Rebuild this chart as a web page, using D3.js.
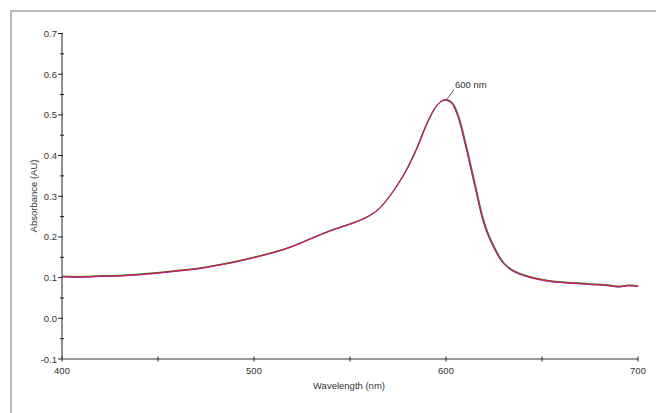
<!DOCTYPE html>
<html>
<head>
<meta charset="utf-8">
<script src="https://cdn.jsdelivr.net/npm/d3@7"></script>
<style>
  body { margin: 0; background: #fff; }
  svg { display: block; font-family: "Liberation Sans", Arial, sans-serif; }
</style>
</head>
<body>
<svg id="chart" width="656" height="413"></svg>
<script>
// absorbance spectrum, values
var wavelengths = [400, 410, 420, 430, 440, 450, 460, 470, 480, 490, 500, 510, 520, 530, 540,
  550, 555, 560, 565, 570, 575, 580, 585, 590, 595, 598, 600, 603, 606, 610, 615, 620, 625,
  630, 635, 640, 645, 650, 655, 660, 665, 670, 675, 680, 685, 690, 695, 700];
var absorbance = [0.103, 0.102, 0.104, 0.105, 0.108, 0.112, 0.117, 0.122, 0.130, 0.139, 0.150,
  0.162, 0.177, 0.197, 0.216, 0.232, 0.241, 0.252, 0.269, 0.296, 0.330, 0.370, 0.420, 0.478,
  0.522, 0.535, 0.537, 0.530, 0.502, 0.432, 0.330, 0.232, 0.175, 0.136, 0.117, 0.107, 0.100,
  0.095, 0.091, 0.089, 0.087, 0.086, 0.084, 0.083, 0.081, 0.078, 0.081, 0.079];
var xTicks = [400, 500, 600, 700];
var xMinor = [450, 550, 650];
var yTicks = [-0.1, 0.0, 0.1, 0.2, 0.3, 0.4, 0.5, 0.6, 0.7];
var yMinor = [-0.05, 0.05, 0.15, 0.25, 0.35, 0.45, 0.55, 0.65];
var peakLabel = "600 nm", peakX = 600;

var svg = d3.select("#chart");

var data = wavelengths.map(function(w, i) { return {w: w, a: absorbance[i]}; });

var x = d3.scaleLinear().domain([400, 700]).range([62, 638]);
var y = d3.scaleLinear().domain([-0.1, 0.7]).range([359, 33.5]);

// outer frame (top and left only)
svg.append("path")
  .attr("d", "M11,413 V11 H656")
  .attr("fill", "none")
  .attr("stroke", "#a6a6a6")
  .attr("stroke-width", 1.5);

// y axis
var ya = svg.append("g").attr("transform", "translate(62,0)");
ya.append("line").attr("y1", y(0.7)).attr("y2", y(-0.1)).attr("stroke", "#222");
ya.selectAll(".maj").data(yTicks).enter().append("line")
  .attr("x1", -4).attr("x2", 1)
  .attr("y1", d => y(d)).attr("y2", d => y(d))
  .attr("stroke", "#222");
ya.selectAll(".min").data(yMinor).enter().append("line")
  .attr("x1", -2).attr("x2", 2)
  .attr("y1", d => y(d)).attr("y2", d => y(d))
  .attr("stroke", "#222");
ya.selectAll("text").data(yTicks).enter().append("text")
  .attr("x", -5).attr("y", d => y(d) + 3.5)
  .attr("text-anchor", "end")
  .attr("font-size", 9.5).attr("fill", "#333")
  .text(d => d3.format(".1f")(d).replace("\u2212", "-"));

// x axis
var xa = svg.append("g").attr("transform", "translate(0,359)");
xa.append("line").attr("x1", x(400)).attr("x2", x(700))
  .attr("stroke", "#999").attr("stroke-width", 1.8);
xa.selectAll(".tk").data(xTicks.concat(xMinor)).enter().append("line")
  .attr("x1", d => x(d)).attr("x2", d => x(d))
  .attr("y1", -2.5).attr("y2", 2.5)
  .attr("stroke", "#222");
xa.selectAll("text").data(xTicks).enter().append("text")
  .attr("x", d => x(d)).attr("y", 15)
  .attr("text-anchor", "middle")
  .attr("font-size", 9.5).attr("fill", "#333")
  .text(d => d);

// axis titles
svg.append("text")
  .attr("transform", "translate(37,196) rotate(-90)")
  .attr("text-anchor", "middle")
  .attr("font-size", 9.5).attr("fill", "#333")
  .text("Absorbance (AU)");
svg.append("text")
  .attr("x", 349).attr("y", 389)
  .attr("text-anchor", "middle")
  .attr("font-size", 9.5).attr("fill", "#333")
  .text("Wavelength (nm)");

// overlapping scans, red on top
var line = d3.line().x(d => x(d.w)).y(d => y(d.a)).curve(d3.curveCatmullRom);
var traces = [["#3050c0", -0.5, 0.4], ["#20a040", 0.5, -0.4], ["#c020c0", 0, 0.5], ["#d02020", 0, 0]];
traces.forEach(function(t) {
  svg.append("path")
    .datum(data)
    .attr("transform", "translate(" + t[1] + "," + t[2] + ")")
    .attr("fill", "none")
    .attr("stroke", t[0])
    .attr("stroke-width", 1)
    .attr("d", line);
});

// peak annotation
var px = x(peakX), py = y(0.537);
svg.append("line")
  .attr("x1", px + 1).attr("y1", py - 1)
  .attr("x2", px + 8).attr("y2", py - 10)
  .attr("stroke", "#333").attr("stroke-width", 0.8);
svg.append("text")
  .attr("x", px + 9).attr("y", py - 12)
  .attr("font-size", 9.5).attr("fill", "#333")
  .text(peakLabel);
</script>
</body>
</html>
